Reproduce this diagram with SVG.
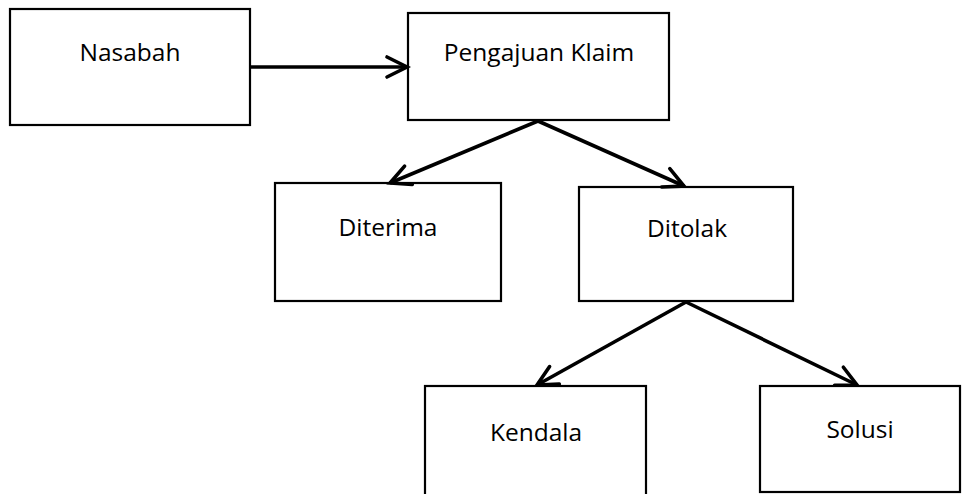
<svg xmlns="http://www.w3.org/2000/svg" width="962" height="494" viewBox="0 0 962 494">
  <style>
    .box { fill: #ffffff; stroke: #000000; stroke-width: 2.2; }
    .lbl { font-family: "Open Sans", "Liberation Sans", sans-serif; font-size: 24.5px; fill: #000000; text-anchor: middle; }
    .conn { fill: none; stroke: #000000; stroke-width: 3.6; marker-end: url(#arrow); }
  </style>
  <defs>
    <marker id="arrow" markerUnits="userSpaceOnUse" viewBox="-24 -14 28 28" refX="0" refY="0" markerWidth="28" markerHeight="28" orient="auto" overflow="visible">
      <path d="M-20,-10 L0,0 L-20,10" fill="none" stroke="#000000" stroke-width="3.6" stroke-linecap="round" stroke-linejoin="miter"/>
    </marker>
  </defs>
  <rect width="962" height="494" fill="#ffffff"/>
  <g id="node-nasabah">
    <rect class="box" x="10" y="9" width="240" height="116"/>
    <text class="lbl" x="130" y="61">Nasabah</text>
  </g>
  <g id="node-pengajuan">
    <rect class="box" x="408" y="13" width="261" height="107"/>
    <text class="lbl" x="539" y="61">Pengajuan Klaim</text>
  </g>
  <g id="node-diterima">
    <rect class="box" x="275" y="183" width="226" height="118"/>
    <text class="lbl" x="388" y="236">Diterima</text>
  </g>
  <g id="node-ditolak">
    <rect class="box" x="579" y="187" width="214" height="114"/>
    <text class="lbl" x="687" y="237">Ditolak</text>
  </g>
  <g id="node-kendala">
    <rect class="box" x="425" y="386" width="221" height="120"/>
    <text class="lbl" x="536" y="441">Kendala</text>
  </g>
  <g id="node-solusi">
    <rect class="box" x="760" y="386" width="200" height="106"/>
    <text class="lbl" x="860" y="438">Solusi</text>
  </g>
  <g id="connectors">
    <line class="conn" x1="250" y1="67" x2="407" y2="67"/>
    <line class="conn" x1="538" y1="121" x2="390" y2="183"/>
    <line class="conn" x1="538" y1="121" x2="684" y2="186"/>
    <line class="conn" x1="686" y1="302" x2="537" y2="385"/>
    <line class="conn" x1="686" y1="302" x2="857" y2="385"/>
  </g>
</svg>
